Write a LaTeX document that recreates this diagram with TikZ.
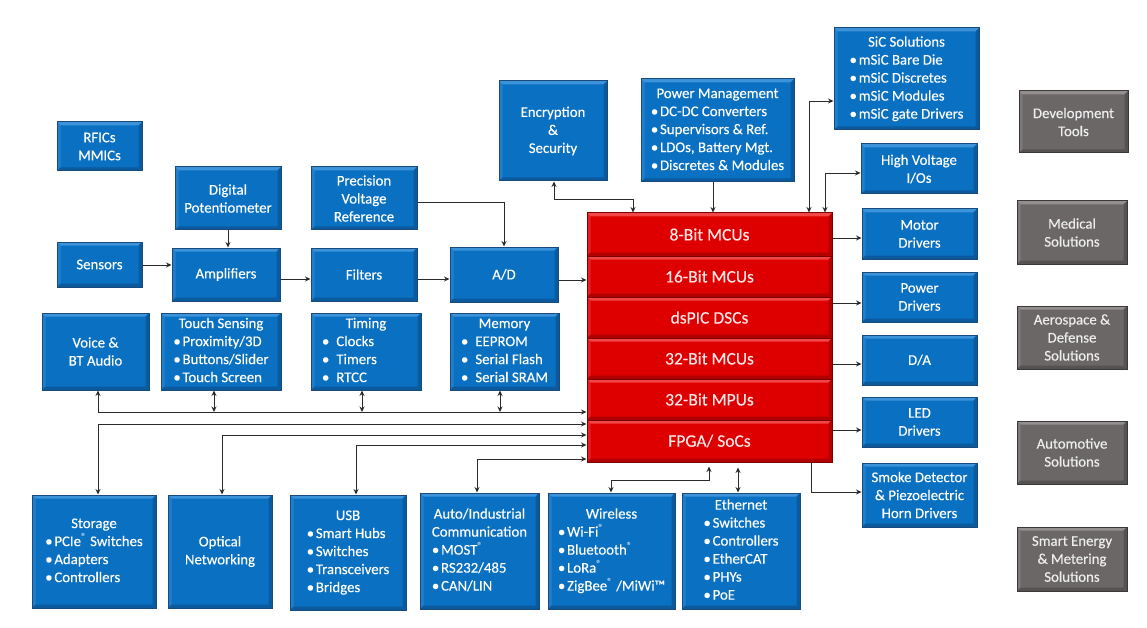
\documentclass[tikz,border=0pt]{standalone}
\usepackage{fontspec}
\setmainfont{Carlito}[FakeBold=0.25]
\newfontfamily\regfont{Carlito}
\usetikzlibrary{arrows.meta,calc}
\definecolor{bfill}{HTML}{0A70C2}
\definecolor{bdark}{HTML}{1A4A7A}
\definecolor{blight}{HTML}{3C93DA}
\definecolor{bshade}{HTML}{0B5A9E}
\definecolor{rfill}{HTML}{DE0000}
\definecolor{rdark}{HTML}{7C0000}
\definecolor{rlight}{HTML}{F24545}
\definecolor{rshade}{HTML}{B00000}
\definecolor{rtext}{HTML}{FFE6E6}
\definecolor{gfill}{HTML}{6B6767}
\definecolor{gdark}{HTML}{3A3838}
\definecolor{glight}{HTML}{938F8F}
\definecolor{gshade}{HTML}{555252}
\definecolor{gtext}{HTML}{EEEEEE}
\definecolor{lnk}{HTML}{2A2A2A}
\newcommand{\bx}[7]{\node[#6, minimum width={(#4-#2)*1pt}, minimum height={(#5-#3)*1pt}] (#1) at ({(#2+#4)/2},{(#3+#5)/2}) {#7};}
\newcommand{\blist}[2]{\begin{tabular}{@{}l@{}}\multicolumn{1}{@{}c@{}}{#1}\\#2\end{tabular}}
\newcommand{\blistw}[3]{\begin{tabular}{@{}p{#1}@{}}\multicolumn{1}{@{}c@{}}{#2}\\#3\end{tabular}}
\newcommand{\sreg}{\textsuperscript{\regfont ®}}
\newcommand{\bl}{•\hspace{1.8pt}}
\tikzset{
  bev/.style 2 args={path picture={
    \path (path picture bounding box.north west) coordinate (ppnw)
          (path picture bounding box.north east) coordinate (ppne)
          (path picture bounding box.south west) coordinate (ppsw)
          (path picture bounding box.south east) coordinate (ppse);
    \fill[#1] (ppnw) -- (ppne) -- ([shift={(-3.5pt,-3.5pt)}]ppne) -- ([shift={(3.5pt,-3.5pt)}]ppnw) -- cycle;
    \fill[#1, opacity=0.45] (ppnw) -- ([shift={(3.5pt,-3.5pt)}]ppnw) -- ([shift={(3.5pt,3.5pt)}]ppsw) -- (ppsw) -- cycle;
    \fill[#2] (ppsw) -- (ppse) -- ([shift={(-3.5pt,3.5pt)}]ppse) -- ([shift={(3.5pt,3.5pt)}]ppsw) -- cycle;
    \fill[#2] (ppse) -- (ppne) -- ([shift={(-3.5pt,-3.5pt)}]ppne) -- ([shift={(-3.5pt,3.5pt)}]ppse) -- cycle;
  }},
  box/.style={rectangle, inner sep=0pt, line width=1pt, text=white,
    font=\fontsize{14.8}{18}\selectfont, align=center},
  bluebox/.style={box, draw=bdark, fill=bfill, bev={blight}{bshade}},
  redbox/.style={box, draw=rdark, fill=rfill, bev={rlight}{rshade}, text=rtext, font=\fontsize{17.5}{20}\selectfont},
  graybox/.style={box, draw=gdark, fill=gfill, bev={glight}{gshade}, text=gtext},
  tip/.tip={Stealth[length=5.5pt,width=5pt]},
  arr/.style={-tip, line width=0.9pt, draw=lnk},
  dar/.style={tip-tip, line width=0.9pt, draw=lnk}
}
\begin{document}
\begin{tikzpicture}[x=1pt,y=-1pt]
\fill[white] (0,0) rectangle (1147,628);
\useasboundingbox (0,0) rectangle (1147,628);

% top / left blue boxes
\bx{rfic}{57}{122}{142}{171}{bluebox}{RFICs\\MMICs}
\bx{digpot}{175}{167}{281}{230}{bluebox}{Digital\\Potentiometer}
\bx{pvr}{311}{167}{417}{230}{bluebox}{Precision\\Voltage\\Reference}
\bx{enc}{499}{81}{607}{181}{bluebox}{Encryption\\\&\\Security}
\bx{pm}{641}{79}{794}{182}{bluebox}{\blist{Power Management}{\bl DC-DC Converters\\\bl Supervisors \& Ref.\\\bl LDOs, Battery Mgt.\\\bl Discretes \& Modules}}
\bx{sic}{834}{28}{979}{130}{bluebox}{\blist{SiC Solutions}{\bl mSiC Bare Die\\\bl mSiC Discretes\\\bl mSiC Modules\\\bl mSiC gate Drivers}}
\bx{hv}{861}{144}{977}{194}{bluebox}{High Voltage\\I/Os}

\bx{sensors}{57}{242}{142}{287}{bluebox}{Sensors}
\bx{amp}{172}{248}{280}{301}{bluebox}{Amplifiers}
\bx{filters}{311}{248}{417}{301}{bluebox}{Filters}
\bx{ad}{450}{247}{558}{302}{bluebox}{A/D}

\bx{voice}{42}{313}{149}{390}{bluebox}{Voice \&\\BT Audio}
\bx{touch}{161}{313}{281}{390}{bluebox}{\blist{Touch Sensing}{\bl Proximity/3D\\\bl Buttons/Slider\\\bl Touch Screen}}
\bx{timing}{311}{313}{421}{390}{bluebox}{\blistw{88pt}{Timing}{•\hspace{7pt}Clocks\\•\hspace{7pt}Timers\\•\hspace{7pt}RTCC}}
\bx{memory}{450}{313}{559}{390}{bluebox}{\blist{Memory}{•\hspace{7pt}EEPROM\\•\hspace{7pt}Serial Flash\\•\hspace{7pt}Serial SRAM}}

% red stack
\bx{r8}{587}{213}{832}{256}{redbox}{8-Bit MCUs}
\bx{r16}{587}{256}{832}{297}{redbox}{16-Bit MCUs}
\bx{rds}{587}{297}{832}{338}{redbox}{dsPIC DSCs}
\bx{r32}{587}{338}{832}{379}{redbox}{32-Bit MCUs}
\bx{rmpu}{587}{379}{832}{420}{redbox}{32-Bit MPUs}
\bx{rfpga}{587}{420}{832}{462}{redbox}{FPGA/ SoCs}

% right column
\bx{motor}{862}{209}{977}{259}{bluebox}{Motor\\Drivers}
\bx{pdrv}{862}{272}{977}{322}{bluebox}{Power\\Drivers}
\bx{da}{862}{335}{977}{385}{bluebox}{D/A}
\bx{led}{862}{397}{977}{447}{bluebox}{LED\\Drivers}
\bx{smoke}{862}{463}{977}{527}{bluebox}{Smoke Detector\\\& Piezoelectric\\Horn Drivers}

% bottom row
\bx{storage}{32}{495}{156}{608}{bluebox}{\blist{Storage}{\bl PCIe\sreg{} Switches\\\bl Adapters\\\bl Controllers}}
\bx{optical}{168}{495}{272}{608}{bluebox}{Optical\\Networking}
\bx{usb}{290}{495}{406}{610}{bluebox}{\blist{USB}{\bl Smart Hubs\\\bl Switches\\\bl Transceivers\\\bl Bridges}}
\bx{autoind}{420}{493}{539}{609}{bluebox}{\blist{Auto/Industrial}{\multicolumn{1}{@{}c@{}}{Communication}\\\bl MOST\sreg\\\bl RS232/485\\\bl CAN/LIN}}
\bx{wireless}{548}{493}{675}{609}{bluebox}{\blist{Wireless}{\bl Wi-Fi\sreg\\\bl Bluetooth\sreg\\\bl LoRa\sreg\\\bl ZigBee\sreg{} /MiWi™}}
\bx{ethernet}{682}{493}{800}{609}{bluebox}{\blist{Ethernet}{\bl Switches\\\bl Controllers\\\bl EtherCAT\\\bl PHYs\\\bl PoE}}

% gray column
\bx{dev}{1019}{91}{1128}{153}{graybox}{Development\\Tools}
\bx{med}{1017}{201}{1127}{264}{graybox}{Medical\\Solutions}
\bx{aero}{1017}{306}{1127}{369}{graybox}{Aerospace \&\\Defense\\Solutions}
\bx{auto}{1017}{421}{1127}{484}{graybox}{Automotive\\Solutions}
\bx{smart}{1017}{527}{1127}{591}{graybox}{Smart Energy\\\& Metering\\Solutions}

% connectors: signal chain
\draw[arr] (sensors.east |- 0,265) -- (amp.west |- 0,265);
\draw[arr] (digpot.south -| 228,0) -- (amp.north -| 228,0);
\draw[arr] (amp.east |- 0,279) -- (filters.west |- 0,279);
\draw[arr] (filters.east |- 0,279) -- (ad.west |- 0,279);
\draw[arr] (ad.east |- 0,280) -- (r16.west |- 0,280);
\draw[arr] (pvr.east |- 0,202) -| (ad.north -| 504,0);

% top connectors
\draw[dar] (enc.south -| 554,0) -- ++(0,18) -| (r8.north -| 633,0);
\draw[arr] (pm.south -| 713,0) -- (r8.north -| 713,0);
\draw[dar] (r8.north -| 809,0) |- (sic.west |- 0,101);
\draw[dar] (r8.north -| 825,0) |- (hv.west |- 0,173);

% right connectors
\draw[arr] (r8.east |- 0,238) -- (motor.west |- 0,238);
\draw[arr] (rds.east |- 0,303) -- (pdrv.west |- 0,303);
\draw[arr] (r32.east |- 0,364) -- (da.west |- 0,364);
\draw[arr] (rfpga.east |- 0,430) -- (led.west |- 0,430);
\draw[arr] (rfpga.south -| 811,0) |- (smoke.west |- 0,492);

% left bus
\coordinate (jt) at (214,412);
\coordinate (jti) at (362,412);
\coordinate (jme) at (500,412);
\draw[dar] (voice.south -| 98,0) |- (rmpu.west |- 0,412);
\draw[dar] (touch.south -| 214,0) -- (jt);
\draw[dar] (timing.south -| 362,0) -- (jti);
\draw[dar] (memory.south -| 500,0) -- (jme);

% bottom connectors
\draw[dar] (rfpga.west |- 0,424) -| (storage.north -| 98,0);
\draw[dar] (rfpga.west |- 0,435) -| (optical.north -| 222,0);
\draw[dar] (rfpga.west |- 0,445) -| (usb.north -| 356,0);
\draw[dar] (rfpga.west |- 0,459) -| (autoind.north -| 477,0);
\draw[dar] (wireless.north -| 611,0) -- ++(0,-12) -| ($(rfpga.south -| 709,0)+(0,4)$);
\draw[dar] (ethernet.north -| 738,0) -- ($(rfpga.south -| 738,0)+(0,5)$);
\end{tikzpicture}
\end{document}
